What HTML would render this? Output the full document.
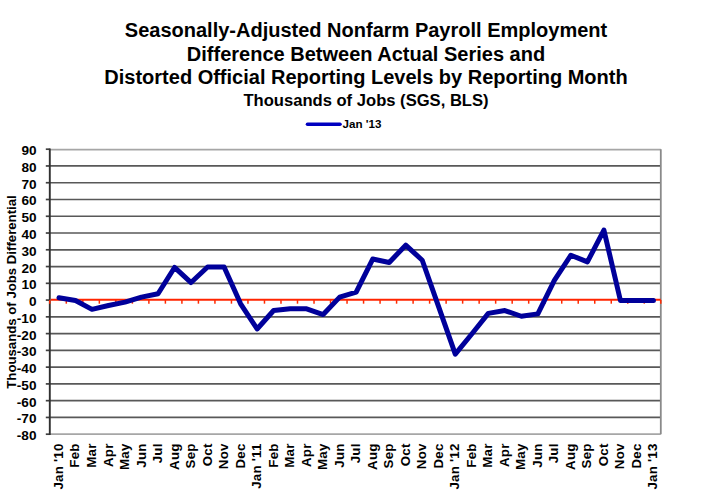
<!DOCTYPE html>
<html><head><meta charset="utf-8"><style>
html,body{margin:0;padding:0;background:#fff;width:721px;height:503px;overflow:hidden}
svg{display:block}
text{font-family:"Liberation Sans", sans-serif;font-weight:bold;fill:#000;font-size:13px}
text.xl{font-size:13.3px;letter-spacing:0.22px;text-anchor:end}
</style></head><body>
<svg width="721" height="503" viewBox="0 0 721 503">
<line x1="49.8" y1="149.60" x2="660.8" y2="149.60" stroke="#a6a6a6" stroke-width="1.7"/>
<line x1="45.8" y1="149.20" x2="49.8" y2="149.20" stroke="#404040" stroke-width="1.7"/>
<text x="36.5" y="155.20" style="text-anchor:end;font-size:13.6px">90</text>
<line x1="49.8" y1="165.96" x2="660.8" y2="165.96" stroke="#585858" stroke-width="1.7"/>
<line x1="45.8" y1="165.96" x2="49.8" y2="165.96" stroke="#404040" stroke-width="1.7"/>
<text x="36.5" y="171.96" style="text-anchor:end;font-size:13.6px">80</text>
<line x1="49.8" y1="182.73" x2="660.8" y2="182.73" stroke="#585858" stroke-width="1.7"/>
<line x1="45.8" y1="182.73" x2="49.8" y2="182.73" stroke="#404040" stroke-width="1.7"/>
<text x="36.5" y="188.73" style="text-anchor:end;font-size:13.6px">70</text>
<line x1="49.8" y1="199.49" x2="660.8" y2="199.49" stroke="#585858" stroke-width="1.7"/>
<line x1="45.8" y1="199.49" x2="49.8" y2="199.49" stroke="#404040" stroke-width="1.7"/>
<text x="36.5" y="205.49" style="text-anchor:end;font-size:13.6px">60</text>
<line x1="49.8" y1="216.26" x2="660.8" y2="216.26" stroke="#585858" stroke-width="1.7"/>
<line x1="45.8" y1="216.26" x2="49.8" y2="216.26" stroke="#404040" stroke-width="1.7"/>
<text x="36.5" y="222.26" style="text-anchor:end;font-size:13.6px">50</text>
<line x1="49.8" y1="233.02" x2="660.8" y2="233.02" stroke="#585858" stroke-width="1.7"/>
<line x1="45.8" y1="233.02" x2="49.8" y2="233.02" stroke="#404040" stroke-width="1.7"/>
<text x="36.5" y="239.02" style="text-anchor:end;font-size:13.6px">40</text>
<line x1="49.8" y1="249.79" x2="660.8" y2="249.79" stroke="#585858" stroke-width="1.7"/>
<line x1="45.8" y1="249.79" x2="49.8" y2="249.79" stroke="#404040" stroke-width="1.7"/>
<text x="36.5" y="255.79" style="text-anchor:end;font-size:13.6px">30</text>
<line x1="49.8" y1="266.55" x2="660.8" y2="266.55" stroke="#585858" stroke-width="1.7"/>
<line x1="45.8" y1="266.55" x2="49.8" y2="266.55" stroke="#404040" stroke-width="1.7"/>
<text x="36.5" y="272.55" style="text-anchor:end;font-size:13.6px">20</text>
<line x1="49.8" y1="283.32" x2="660.8" y2="283.32" stroke="#585858" stroke-width="1.7"/>
<line x1="45.8" y1="283.32" x2="49.8" y2="283.32" stroke="#404040" stroke-width="1.7"/>
<text x="36.5" y="289.32" style="text-anchor:end;font-size:13.6px">10</text>
<line x1="45.8" y1="300.08" x2="49.8" y2="300.08" stroke="#404040" stroke-width="1.7"/>
<text x="36.5" y="306.08" style="text-anchor:end;font-size:13.6px">0</text>
<line x1="49.8" y1="316.85" x2="660.8" y2="316.85" stroke="#585858" stroke-width="1.7"/>
<line x1="45.8" y1="316.85" x2="49.8" y2="316.85" stroke="#404040" stroke-width="1.7"/>
<text x="36.5" y="322.85" style="text-anchor:end;font-size:13.6px">-10</text>
<line x1="49.8" y1="333.61" x2="660.8" y2="333.61" stroke="#585858" stroke-width="1.7"/>
<line x1="45.8" y1="333.61" x2="49.8" y2="333.61" stroke="#404040" stroke-width="1.7"/>
<text x="36.5" y="339.61" style="text-anchor:end;font-size:13.6px">-20</text>
<line x1="49.8" y1="350.38" x2="660.8" y2="350.38" stroke="#585858" stroke-width="1.7"/>
<line x1="45.8" y1="350.38" x2="49.8" y2="350.38" stroke="#404040" stroke-width="1.7"/>
<text x="36.5" y="356.38" style="text-anchor:end;font-size:13.6px">-30</text>
<line x1="49.8" y1="367.14" x2="660.8" y2="367.14" stroke="#585858" stroke-width="1.7"/>
<line x1="45.8" y1="367.14" x2="49.8" y2="367.14" stroke="#404040" stroke-width="1.7"/>
<text x="36.5" y="373.14" style="text-anchor:end;font-size:13.6px">-40</text>
<line x1="49.8" y1="383.91" x2="660.8" y2="383.91" stroke="#585858" stroke-width="1.7"/>
<line x1="45.8" y1="383.91" x2="49.8" y2="383.91" stroke="#404040" stroke-width="1.7"/>
<text x="36.5" y="389.91" style="text-anchor:end;font-size:13.6px">-50</text>
<line x1="49.8" y1="400.67" x2="660.8" y2="400.67" stroke="#585858" stroke-width="1.7"/>
<line x1="45.8" y1="400.67" x2="49.8" y2="400.67" stroke="#404040" stroke-width="1.7"/>
<text x="36.5" y="406.67" style="text-anchor:end;font-size:13.6px">-60</text>
<line x1="49.8" y1="417.44" x2="660.8" y2="417.44" stroke="#585858" stroke-width="1.7"/>
<line x1="45.8" y1="417.44" x2="49.8" y2="417.44" stroke="#404040" stroke-width="1.7"/>
<text x="36.5" y="423.44" style="text-anchor:end;font-size:13.6px">-70</text>
<line x1="49.8" y1="434.20" x2="660.8" y2="434.20" stroke="#a6a6a6" stroke-width="1.7"/>
<line x1="45.8" y1="434.20" x2="49.8" y2="434.20" stroke="#404040" stroke-width="1.7"/>
<text x="36.5" y="440.20" style="text-anchor:end;font-size:13.6px">-80</text>
<line x1="660.8" y1="149.2" x2="660.8" y2="434.2" stroke="#8a8a8a" stroke-width="1.8"/>
<line x1="49.8" y1="148.39999999999998" x2="49.8" y2="435.0" stroke="#303030" stroke-width="1.9"/>
<line x1="50.8" y1="299.78" x2="660.8" y2="299.78" stroke="#ff2400" stroke-width="1.9"/>
<line x1="49.80" y1="300.08" x2="49.80" y2="303.68" stroke="#ff2a00" stroke-width="1.5"/>
<line x1="66.31" y1="300.08" x2="66.31" y2="303.68" stroke="#ff2a00" stroke-width="1.5"/>
<line x1="82.83" y1="300.08" x2="82.83" y2="303.68" stroke="#ff2a00" stroke-width="1.5"/>
<line x1="99.34" y1="300.08" x2="99.34" y2="303.68" stroke="#ff2a00" stroke-width="1.5"/>
<line x1="115.85" y1="300.08" x2="115.85" y2="303.68" stroke="#ff2a00" stroke-width="1.5"/>
<line x1="132.37" y1="300.08" x2="132.37" y2="303.68" stroke="#ff2a00" stroke-width="1.5"/>
<line x1="148.88" y1="300.08" x2="148.88" y2="303.68" stroke="#ff2a00" stroke-width="1.5"/>
<line x1="165.39" y1="300.08" x2="165.39" y2="303.68" stroke="#ff2a00" stroke-width="1.5"/>
<line x1="181.91" y1="300.08" x2="181.91" y2="303.68" stroke="#ff2a00" stroke-width="1.5"/>
<line x1="198.42" y1="300.08" x2="198.42" y2="303.68" stroke="#ff2a00" stroke-width="1.5"/>
<line x1="214.94" y1="300.08" x2="214.94" y2="303.68" stroke="#ff2a00" stroke-width="1.5"/>
<line x1="231.45" y1="300.08" x2="231.45" y2="303.68" stroke="#ff2a00" stroke-width="1.5"/>
<line x1="247.96" y1="300.08" x2="247.96" y2="303.68" stroke="#ff2a00" stroke-width="1.5"/>
<line x1="264.48" y1="300.08" x2="264.48" y2="303.68" stroke="#ff2a00" stroke-width="1.5"/>
<line x1="280.99" y1="300.08" x2="280.99" y2="303.68" stroke="#ff2a00" stroke-width="1.5"/>
<line x1="297.50" y1="300.08" x2="297.50" y2="303.68" stroke="#ff2a00" stroke-width="1.5"/>
<line x1="314.02" y1="300.08" x2="314.02" y2="303.68" stroke="#ff2a00" stroke-width="1.5"/>
<line x1="330.53" y1="300.08" x2="330.53" y2="303.68" stroke="#ff2a00" stroke-width="1.5"/>
<line x1="347.04" y1="300.08" x2="347.04" y2="303.68" stroke="#ff2a00" stroke-width="1.5"/>
<line x1="363.56" y1="300.08" x2="363.56" y2="303.68" stroke="#ff2a00" stroke-width="1.5"/>
<line x1="380.07" y1="300.08" x2="380.07" y2="303.68" stroke="#ff2a00" stroke-width="1.5"/>
<line x1="396.58" y1="300.08" x2="396.58" y2="303.68" stroke="#ff2a00" stroke-width="1.5"/>
<line x1="413.10" y1="300.08" x2="413.10" y2="303.68" stroke="#ff2a00" stroke-width="1.5"/>
<line x1="429.61" y1="300.08" x2="429.61" y2="303.68" stroke="#ff2a00" stroke-width="1.5"/>
<line x1="446.12" y1="300.08" x2="446.12" y2="303.68" stroke="#ff2a00" stroke-width="1.5"/>
<line x1="462.64" y1="300.08" x2="462.64" y2="303.68" stroke="#ff2a00" stroke-width="1.5"/>
<line x1="479.15" y1="300.08" x2="479.15" y2="303.68" stroke="#ff2a00" stroke-width="1.5"/>
<line x1="495.66" y1="300.08" x2="495.66" y2="303.68" stroke="#ff2a00" stroke-width="1.5"/>
<line x1="512.18" y1="300.08" x2="512.18" y2="303.68" stroke="#ff2a00" stroke-width="1.5"/>
<line x1="528.69" y1="300.08" x2="528.69" y2="303.68" stroke="#ff2a00" stroke-width="1.5"/>
<line x1="545.21" y1="300.08" x2="545.21" y2="303.68" stroke="#ff2a00" stroke-width="1.5"/>
<line x1="561.72" y1="300.08" x2="561.72" y2="303.68" stroke="#ff2a00" stroke-width="1.5"/>
<line x1="578.23" y1="300.08" x2="578.23" y2="303.68" stroke="#ff2a00" stroke-width="1.5"/>
<line x1="594.75" y1="300.08" x2="594.75" y2="303.68" stroke="#ff2a00" stroke-width="1.5"/>
<line x1="611.26" y1="300.08" x2="611.26" y2="303.68" stroke="#ff2a00" stroke-width="1.5"/>
<line x1="627.77" y1="300.08" x2="627.77" y2="303.68" stroke="#ff2a00" stroke-width="1.5"/>
<line x1="644.29" y1="300.08" x2="644.29" y2="303.68" stroke="#ff2a00" stroke-width="1.5"/>
<line x1="660.80" y1="300.08" x2="660.80" y2="303.68" stroke="#ff2a00" stroke-width="1.5"/>
<polyline points="58.96,297.80 75.47,300.48 91.98,309.37 108.50,305.51 125.01,302.16 141.52,297.13 158.04,293.78 174.55,267.46 191.06,282.54 207.58,266.95 224.09,266.95 240.61,303.84 257.12,328.98 273.63,310.54 290.15,308.86 306.66,308.86 323.17,314.56 339.69,297.13 356.20,292.10 372.71,259.07 389.23,262.43 405.74,245.16 422.25,260.25 438.77,307.19 455.28,354.13 471.79,334.01 488.31,313.39 504.82,310.54 521.34,316.24 537.85,313.89 554.36,280.36 570.88,255.22 587.39,261.92 603.90,230.07 620.42,300.48 636.93,300.48 653.44,300.48" fill="none" stroke="#00009a" stroke-width="5" stroke-linejoin="round" stroke-linecap="round"/>
<text class="xl" transform="translate(62.96,443.4) rotate(-90)">Jan &#39;10</text>
<text class="xl" transform="translate(79.47,443.4) rotate(-90)">Feb</text>
<text class="xl" transform="translate(95.98,443.4) rotate(-90)">Mar</text>
<text class="xl" transform="translate(112.50,443.4) rotate(-90)">Apr</text>
<text class="xl" transform="translate(129.01,443.4) rotate(-90)">May</text>
<text class="xl" transform="translate(145.52,443.4) rotate(-90)">Jun</text>
<text class="xl" transform="translate(162.04,443.4) rotate(-90)">Jul</text>
<text class="xl" transform="translate(178.55,443.4) rotate(-90)">Aug</text>
<text class="xl" transform="translate(195.06,443.4) rotate(-90)">Sep</text>
<text class="xl" transform="translate(211.58,443.4) rotate(-90)">Oct</text>
<text class="xl" transform="translate(228.09,443.4) rotate(-90)">Nov</text>
<text class="xl" transform="translate(244.61,443.4) rotate(-90)">Dec</text>
<text class="xl" transform="translate(261.12,443.4) rotate(-90)">Jan &#39;11</text>
<text class="xl" transform="translate(277.63,443.4) rotate(-90)">Feb</text>
<text class="xl" transform="translate(294.15,443.4) rotate(-90)">Mar</text>
<text class="xl" transform="translate(310.66,443.4) rotate(-90)">Apr</text>
<text class="xl" transform="translate(327.17,443.4) rotate(-90)">May</text>
<text class="xl" transform="translate(343.69,443.4) rotate(-90)">Jun</text>
<text class="xl" transform="translate(360.20,443.4) rotate(-90)">Jul</text>
<text class="xl" transform="translate(376.71,443.4) rotate(-90)">Aug</text>
<text class="xl" transform="translate(393.23,443.4) rotate(-90)">Sep</text>
<text class="xl" transform="translate(409.74,443.4) rotate(-90)">Oct</text>
<text class="xl" transform="translate(426.25,443.4) rotate(-90)">Nov</text>
<text class="xl" transform="translate(442.77,443.4) rotate(-90)">Dec</text>
<text class="xl" transform="translate(459.28,443.4) rotate(-90)">Jan &#39;12</text>
<text class="xl" transform="translate(475.79,443.4) rotate(-90)">Feb</text>
<text class="xl" transform="translate(492.31,443.4) rotate(-90)">Mar</text>
<text class="xl" transform="translate(508.82,443.4) rotate(-90)">Apr</text>
<text class="xl" transform="translate(525.34,443.4) rotate(-90)">May</text>
<text class="xl" transform="translate(541.85,443.4) rotate(-90)">Jun</text>
<text class="xl" transform="translate(558.36,443.4) rotate(-90)">Jul</text>
<text class="xl" transform="translate(574.88,443.4) rotate(-90)">Aug</text>
<text class="xl" transform="translate(591.39,443.4) rotate(-90)">Sep</text>
<text class="xl" transform="translate(607.90,443.4) rotate(-90)">Oct</text>
<text class="xl" transform="translate(624.42,443.4) rotate(-90)">Nov</text>
<text class="xl" transform="translate(640.93,443.4) rotate(-90)">Dec</text>
<text class="xl" transform="translate(657.44,443.4) rotate(-90)">Jan &#39;13</text>
<text transform="translate(15.5,292) rotate(-90)" style="text-anchor:middle;font-size:13.2px">Thousands of Jobs Differential</text>
<text x="366" y="37.3" style="text-anchor:middle;font-size:20px">Seasonally-Adjusted Nonfarm Payroll Employment</text>
<text x="366" y="60.6" style="text-anchor:middle;font-size:20px">Difference Between Actual Series and</text>
<text x="366" y="84.3" style="text-anchor:middle;font-size:20px">Distorted Official Reporting Levels by Reporting Month</text>
<text x="366" y="106.2" style="text-anchor:middle;font-size:16.6px">Thousands of Jobs (SGS, BLS)</text>
<line x1="307.5" y1="124.3" x2="340" y2="124.3" stroke="#0000c0" stroke-width="3.6" stroke-linecap="round"/>
<text x="342.6" y="128.2" style="font-size:11.6px">Jan &#39;13</text>
</svg></body></html>
